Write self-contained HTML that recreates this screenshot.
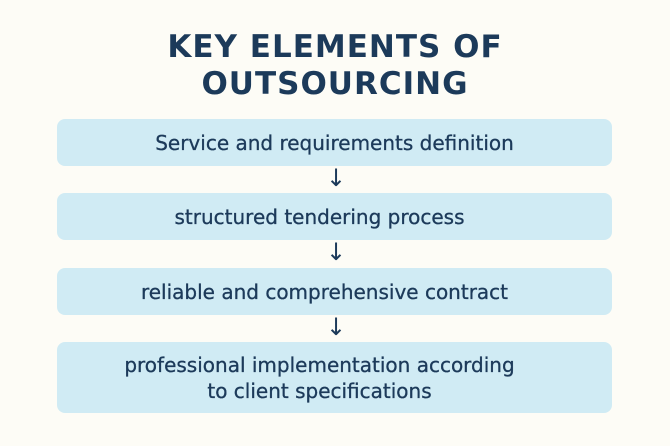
<!DOCTYPE html>
<html><head><style>
body{margin:0;width:670px;height:446px;background:#fdfcf6;font-family:"DejaVu Sans","Liberation Sans",sans-serif;color:#1c3a5a;position:relative;overflow:hidden}
.t{position:absolute;left:0;width:670px;text-align:center;font-size:31px;font-weight:bold;letter-spacing:1px;line-height:36px}
.b{position:absolute;left:57px;width:555px;background:#d0ebf4;border-radius:8px;display:flex;align-items:center;justify-content:center;text-align:center;font-size:20px;line-height:26px;-webkit-text-stroke:0.3px #1c3a5a}
.a{position:absolute;left:326px;font-size:24px;line-height:24px}
</style></head><body>
<div class="t" style="top:29px">KEY ELEMENTS OF</div>
<div class="t" style="top:66px">OUTSOURCING</div>
<div class="b" style="top:119px;height:47px">Service and requirements definition</div>
<div class="a" style="top:166px">↓</div>
<div class="b" style="top:193px;height:47px;padding-right:30px;box-sizing:border-box">structured tendering process</div>
<div class="a" style="top:240px">↓</div>
<div class="b" style="top:268px;height:47px;padding-right:20px;box-sizing:border-box">reliable and comprehensive contract</div>
<div class="a" style="top:315px">↓</div>
<div class="b" style="top:342px;height:71px;padding-right:30px;box-sizing:border-box">professional implementation according<br>to client specifications</div>
</body></html>
